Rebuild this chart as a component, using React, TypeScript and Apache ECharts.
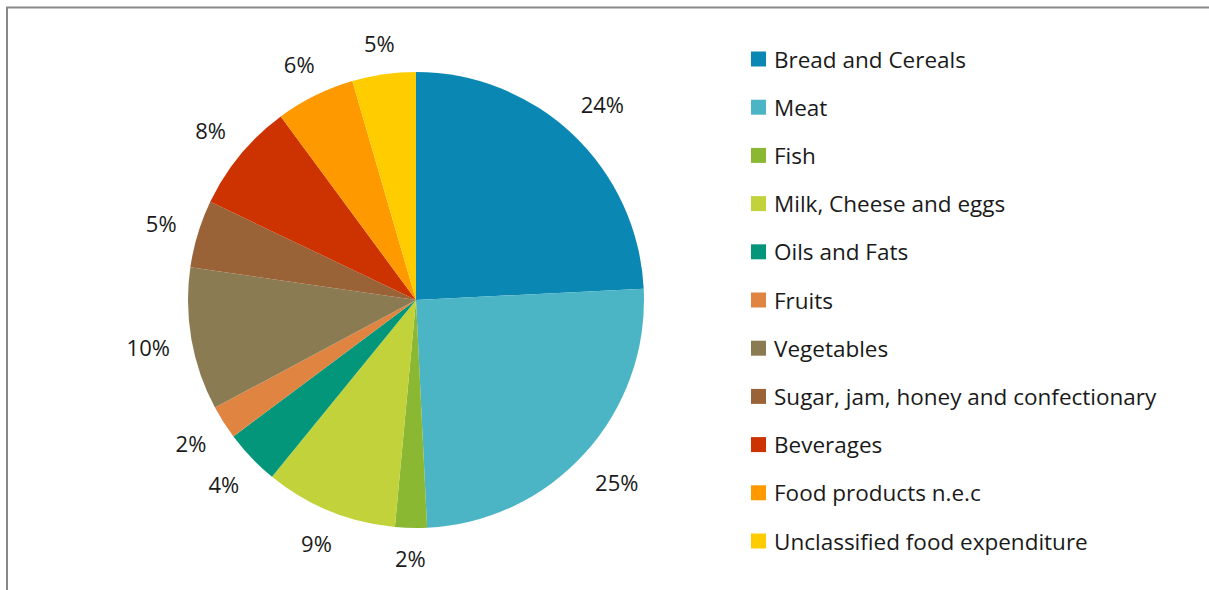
import React, { useEffect, useRef } from "react";
import * as echarts from "echarts";

const categories = [
  "Bread and Cereals",
  "Meat",
  "Fish",
  "Milk, Cheese and eggs",
  "Oils and Fats",
  "Fruits",
  "Vegetables",
  "Sugar, jam, honey and confectionary",
  "Beverages",
  "Food products n.e.c",
  "Unclassified food expenditure",
];
const shares = [24.2, 25.0, 2.25, 9.4, 3.9, 2.4, 10.1, 4.8, 7.8, 5.6, 4.5];
const colors = [
  "#0B87B3",
  "#4BB4C5",
  "#8AB833",
  "#C2D23B",
  "#03967A",
  "#DF8541",
  "#8B7B52",
  "#9A6337",
  "#CC3300",
  "#FF9900",
  "#FFCC00",
];

const FONT = "Open Sans";
const CX = 416;
const CY = 300;
const R = 228;
const LABEL_R = 249;

export default function App() {
  const ref = useRef<HTMLDivElement>(null);
  useEffect(() => {
    if (!ref.current) return;
    const chart = echarts.init(ref.current, null, { renderer: "svg" });
    const total = shares.reduce((a, b) => a + b, 0);
    const mids: number[] = [];
    let acc = 0;
    shares.forEach((v) => {
      const a0 = (acc / total) * 2 * Math.PI;
      acc += v;
      const a1 = (acc / total) * 2 * Math.PI;
      mids.push((a0 + a1) / 2);
    });
    chart.setOption({
      animation: false,
      backgroundColor: "#ffffff",
      color: colors,
      graphic: [
        {
          type: "line",
          shape: { x1: 7, y1: 7, x2: 7, y2: 590 },
          style: { stroke: "#898989", lineWidth: 2 },
          silent: true,
        },
        {
          type: "line",
          shape: { x1: 6, y1: 7.5, x2: 1209, y2: 7.5 },
          style: { stroke: "#898989", lineWidth: 2 },
          silent: true,
        },
      ],
      legend: {
        orient: "vertical",
        left: 751,
        top: 47,
        padding: 0,
        itemWidth: 15,
        itemHeight: 15,
        itemGap: 24.2,
        icon: "rect",
        data: categories,
        textStyle: {
          fontFamily: FONT,
          fontSize: 22.5,
          color: "#1a1a1a",
          lineHeight: 24,
          padding: [0, 0, 0, 3],
        },
      },
      series: [
        {
          type: "pie",
          center: [CX, CY],
          radius: R,
          startAngle: 90,
          clockwise: true,
          avoidLabelOverlap: false,
          labelLine: { show: false },
          label: {
            show: true,
            position: "outside",
            fontFamily: FONT,
            fontSize: 22,
            color: "#1a1a1a",
            formatter: (p: any) => Math.round(p.percent) + "%",
          },
          labelLayout: (params: any) => {
            const i = params.dataIndex;
            const a = mids[i];
            const dx = Math.sin(a);
            const dy = -Math.cos(a);
            const w = params.labelRect.width;
            const h = params.labelRect.height * 0.8;
            const d = LABEL_R + (w / 2) * Math.abs(dx) + (h / 2) * Math.abs(dy);
            return {
              x: CX + d * dx,
              y: CY + d * dy,
              align: "center",
              verticalAlign: "middle",
            };
          },
          itemStyle: { borderWidth: 0 },
          data: categories.map((name, i) => ({ name, value: shares[i] })),
        },
      ],
    });
    return () => chart.dispose();
  }, []);
  return (
    <div
      ref={ref}
      style={{ position: "absolute", left: 0, top: 0, width: 1209, height: 590 }}
    />
  );
}
